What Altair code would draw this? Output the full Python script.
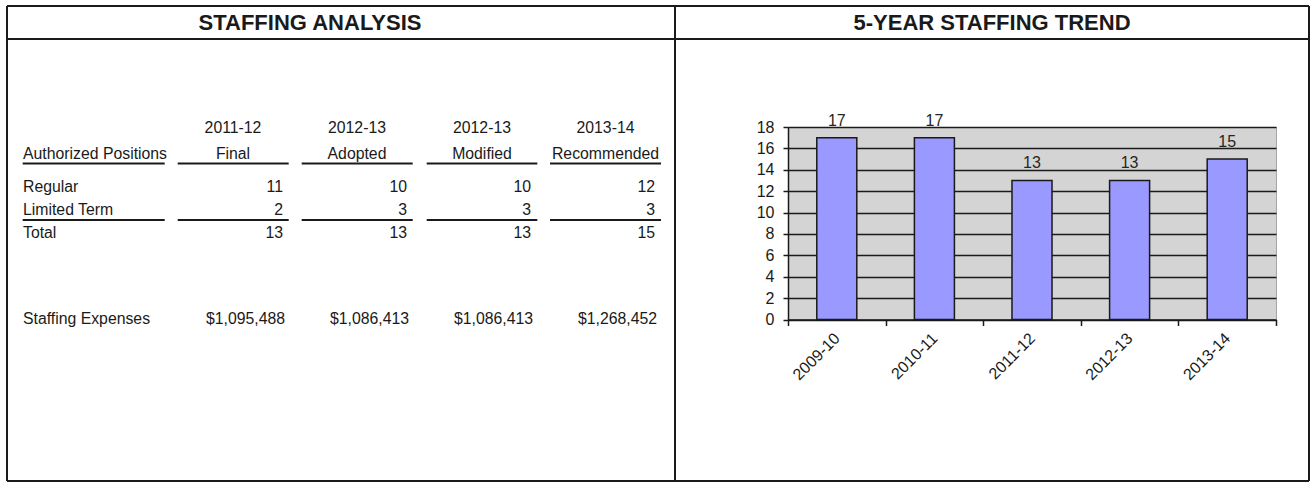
import altair as alt
import pandas as pd

# ---------------- data ----------------
periods = ["2009-10", "2010-11", "2011-12", "2012-13", "2013-14"]
positions = [17, 17, 13, 13, 15]
y_ticks = [0, 2, 4, 6, 8, 10, 12, 14, 16, 18]

titles = ["STAFFING ANALYSIS", "5-YEAR STAFFING TREND"]
col_years = ["2011-12", "2012-13", "2012-13", "2013-14"]
col_types = ["Final", "Adopted", "Modified", "Recommended"]
head_label = "Authorized Positions"
row_labels = ["Regular", "Limited Term", "Total"]
regular = [11, 10, 10, 12]
limited = [2, 3, 3, 3]
total = [13, 13, 13, 15]
exp_label = "Staffing Expenses"
expenses = ["$1,095,488", "$1,086,413", "$1,086,413", "$1,268,452"]

# ---------------- layout (page pixels) ----------------
PX0, PX1, PY0, PY1 = 788, 1276, 127, 319.5   # bar plot area
W, H = PX1 - PX0, PY1 - PY0
PAGE_W, PAGE_H = 1316, 487

FRAME_L, FRAME_R, FRAME_T, FRAME_B = 7, 1309, 6, 481
DIVIDER_X, HEADER_Y = 675, 39
TITLE_X = [310, 992]
TITLE_Y = 30

LABEL_X = 23
COL_CENTER = [233, 357, 482, 605.5]
COL_RIGHT = [283, 407, 531, 655]
SEG = [(22.7, 164.7), (177.7, 288.7), (301.7, 412.7), (426.7, 537.3), (550, 661)]
Y_YEAR, Y_HEAD, Y_LINE1 = 133, 159, 163.5
Y_ROWS = [192, 215, 238]
Y_LINE2 = 220
Y_EXP = 324

TABLE_FONT = "Liberation Sans, Arial, sans-serif"
TABLE_SIZE = 15.8
CHART_FONT = "Liberation Sans, Arial, sans-serif"
INK = "#1a1a1a"


def px(x):
    return x - PX0


def py(y):
    return y - PY0


one = pd.DataFrame({"k": [0]})


def hline(x1, x2, y, w=2):
    return alt.Chart(one).mark_rule(color=INK, strokeWidth=w, clip=False).encode(
        x=alt.value(px(x1)), x2=alt.value(px(x2)), y=alt.value(py(y)))


def vline(x, y1, y2, w=2):
    return alt.Chart(one).mark_rule(color=INK, strokeWidth=w, clip=False).encode(
        x=alt.value(px(x)), y=alt.value(py(y1)), y2=alt.value(py(y2)))


def text(t, x, y, align="left", size=TABLE_SIZE, font=TABLE_FONT, weight="normal"):
    return alt.Chart(pd.DataFrame({"t": [str(t)]})).mark_text(
        align=align, baseline="alphabetic", fontSize=size, font=font,
        fontWeight=weight, color=INK).encode(
        x=alt.value(px(x)), y=alt.value(py(y)), text="t:N")


layers = []

# frame
layers.append(hline(FRAME_L, FRAME_R, FRAME_T))
layers.append(hline(FRAME_L, FRAME_R, HEADER_Y))
layers.append(hline(FRAME_L, FRAME_R, FRAME_B))
layers.append(vline(FRAME_L, FRAME_T, FRAME_B))
layers.append(vline(DIVIDER_X, FRAME_T, FRAME_B))
layers.append(vline(FRAME_R, FRAME_T, FRAME_B))

# titles
for t, x in zip(titles, TITLE_X):
    layers.append(text(t, x, TITLE_Y, align="center", size=22,
                       font="Liberation Sans, Arial, sans-serif", weight="bold"))

# table header
layers.append(text(head_label, LABEL_X, Y_HEAD))
for i in range(4):
    layers.append(text(col_years[i], COL_CENTER[i], Y_YEAR, align="center"))
    layers.append(text(col_types[i], COL_CENTER[i], Y_HEAD, align="center"))

for a, b in SEG:
    layers.append(hline(a, b, Y_LINE1))
    layers.append(hline(a, b, Y_LINE2))

for lab, vals, y in zip(row_labels, [regular, limited, total], Y_ROWS):
    layers.append(text(lab, LABEL_X, y))
    for i in range(4):
        layers.append(text(vals[i], COL_RIGHT[i], y, align="right"))

layers.append(text(exp_label, LABEL_X, Y_EXP))
for i in range(4):
    layers.append(text(expenses[i], COL_RIGHT[i] + 2, Y_EXP, align="right"))

# bar chart
bar_df = pd.DataFrame({"period": periods, "positions": positions})
xenc = alt.X("period:N", sort=periods,
             scale=alt.Scale(domain=periods, paddingInner=0, paddingOuter=0),
             axis=alt.Axis(title=None, tickBand="extent", grid=False,
                           labelAngle=-45, labelAlign="right", labelBaseline="middle",
                           labelFont=CHART_FONT, labelFontSize=16, labelColor=INK,
                           labelPadding=10, tickSize=6, tickColor=INK, tickWidth=1.5,
                           domainColor=INK, domainWidth=1.5, labelOverlap=False))
yenc = alt.Y("positions:Q",
             scale=alt.Scale(domain=[0, 18], nice=False, zero=True),
             axis=alt.Axis(title=None, values=y_ticks, grid=True, gridColor=INK,
                           gridWidth=1.5, domainColor=INK, domainWidth=1.5,
                           tickColor=INK, tickWidth=1.5, tickSize=5,
                           labelFont=CHART_FONT, labelFontSize=16, labelColor=INK,
                           labelPadding=9, labelOverlap=False))

bars = alt.Chart(bar_df).mark_bar(
    fill="#9999FF", stroke=INK, strokeWidth=1.5,
    width=alt.RelativeBandSize(0.41)).encode(x=xenc, y=yenc)

bar_text = alt.Chart(bar_df).mark_text(
    baseline="bottom", dy=-9, fontSize=16, font=CHART_FONT, color="#262626").encode(
    x=xenc, y=yenc, text="positions:Q")

chart = alt.layer(bars, bar_text, *layers).properties(
    width=W, height=H,
    padding={"left": PX0, "top": PY0, "right": PAGE_W - PX1, "bottom": PAGE_H - PY1},
    autosize=alt.AutoSizeParams(type="none"),
    background="white",
).configure_view(fill="#D4D4D4", stroke="#A6A6A6", strokeWidth=1)

chart.save("out.html", embed_options={"renderer": "svg", "actions": False})
